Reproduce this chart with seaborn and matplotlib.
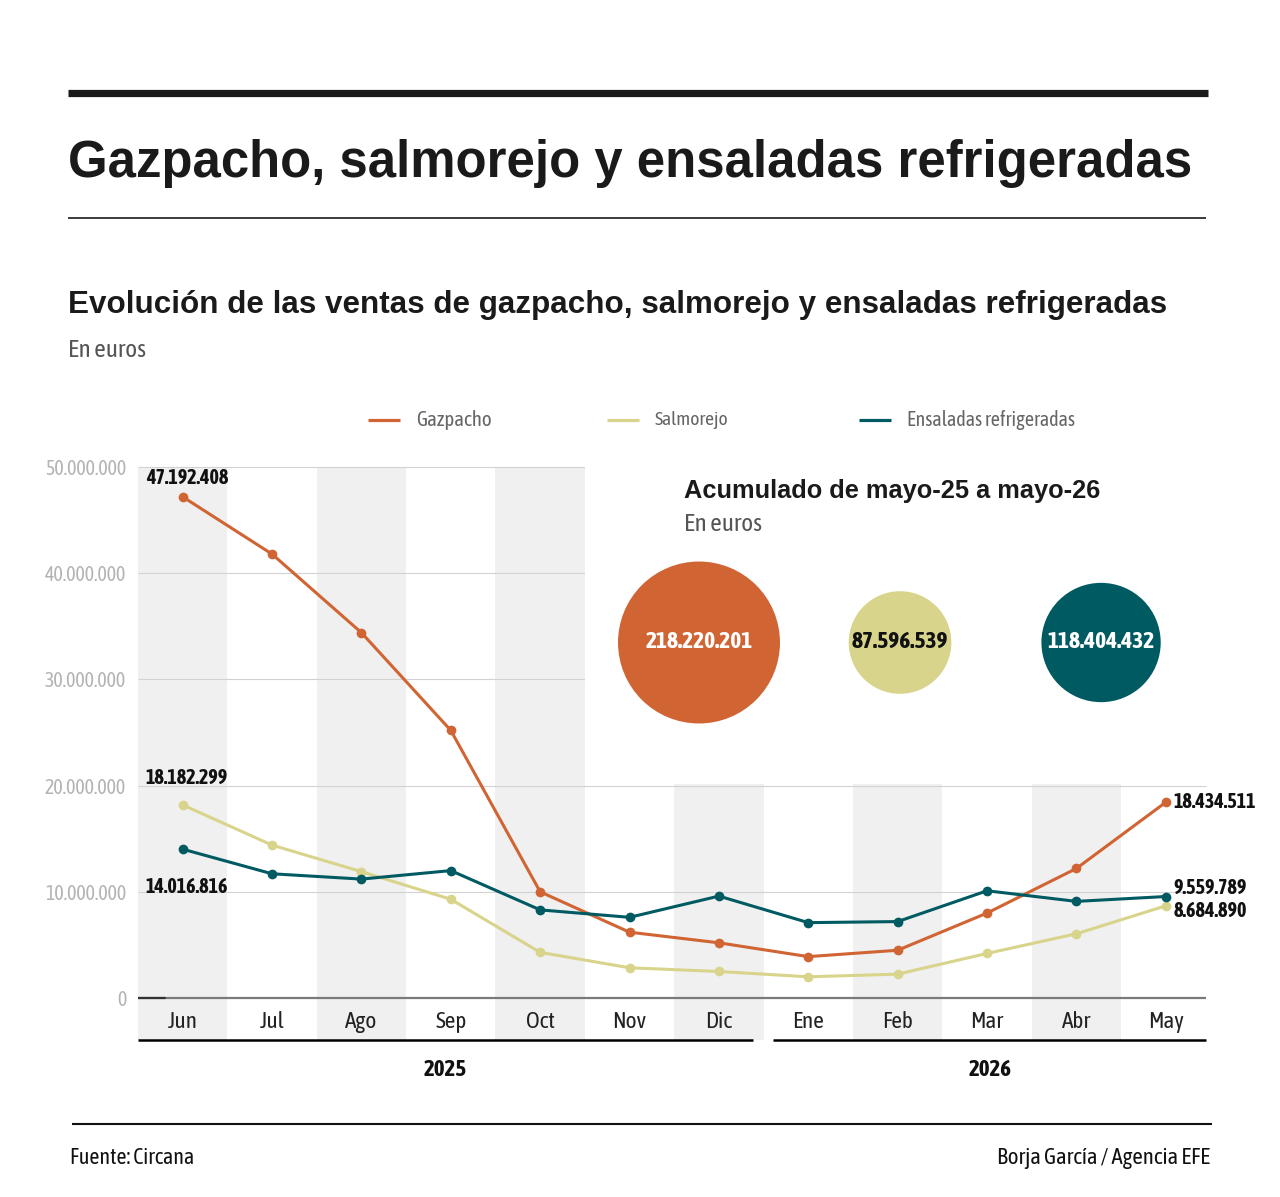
import numpy as np
import pandas as pd
import matplotlib
matplotlib.use('Agg')
import matplotlib.pyplot as plt
import seaborn as sns
from matplotlib import font_manager
from matplotlib.lines import Line2D
from matplotlib.patches import Rectangle

# Datos
meses = ['Jun', 'Jul', 'Ago', 'Sep', 'Oct', 'Nov', 'Dic', 'Ene', 'Feb', 'Mar', 'Abr', 'May']
gazpacho = [47192408, 41800000, 34400000, 25200000, 10000000, 6200000,
            5200000, 3900000, 4500000, 8000000, 12200000, 18434511]
salmorejo = [18182299, 14400000, 11900000, 9300000, 4300000, 2850000,
             2500000, 2000000, 2250000, 4200000, 6050000, 8684890]
ensaladas = [14016816, 11700000, 11200000, 12000000, 8300000, 7600000,
             9600000, 7100000, 7200000, 10100000, 9100000, 9559789]
series = ['Gazpacho', 'Salmorejo', 'Ensaladas refrigeradas']
colores = ['#d06433', '#d9d48b', '#005a62']
acumulado = [218220201, 87596539, 118404432]
anios = ['2025', '2026']
yticks = [0, 10000000, 20000000, 30000000, 40000000, 50000000]

sns.set_theme(style='white')


def peso(w):
    if isinstance(w, str):
        return font_manager.weight_dict.get(w, 400)
    return w


# buscar una familia estrecha con negrita para etiquetas y textos pequeños
pesos = {}
for f in font_manager.fontManager.ttflist:
    if 'Narrow' in f.name or 'Condensed' in f.name:
        pesos.setdefault(f.name, set()).add(peso(f.weight))
con_negrita = sorted(n for n, p in pesos.items() if max(p) >= 700 and min(p) <= 500)
if con_negrita:
    fuente = fuente_b = con_negrita[0]
elif pesos:
    fuente = sorted(pesos)[0]
    fuente_b = 'Liberation Sans'
else:
    fuente = fuente_b = 'Liberation Sans'
plt.rcParams['font.family'] = [fuente, 'DejaVu Sans']
B = dict(fontweight='bold', family=[fuente_b, 'DejaVu Sans'])
T = dict(fontweight='bold', family=['Liberation Sans', 'DejaVu Sans'])


def fmt(v):
    return f'{int(v):,}'.replace(',', '.')


W, H = 1280, 1197
fig = plt.figure(figsize=(W / 100, H / 100), dpi=100)
fig.patch.set_facecolor('white')


def fx(x):
    return x / W


def fy(y):
    return 1 - y / H


def ajustar(t, ancho):
    r = fig.canvas.get_renderer()
    w = t.get_window_extent(r).width
    t.set_fontsize(t.get_fontsize() * ancho / w)


def tamano(texto, ancho, **kw):
    t = fig.text(0, 0, texto, fontsize=20, **kw)
    ajustar(t, ancho)
    s = t.get_fontsize()
    t.remove()
    return s


def barra(x0, x1, y, lw, color):
    fig.add_artist(Line2D([fx(x0), fx(x1)], [fy(y), fy(y)], lw=lw, color=color,
                          solid_capstyle='butt'))


fs_tick = tamano('50.000.000', 82)
fs_dato = tamano('47.192.408', 82, **B)
fs_burbuja = tamano('218.220.201', 107, **B)
fs_mes = tamano('Jun', 30)
fs_anio = tamano('2025', 43, **B)

# Cabecera
barra(68, 1208, 93, 5.2, '#1a1a1a')
t = fig.text(fx(68), fy(177), 'Gazpacho, salmorejo y ensaladas refrigeradas',
             fontsize=40, color='#1a1a1a', va='baseline', **T)
ajustar(t, 1122)
barra(68, 1206, 218, 1.2, '#1a1a1a')
t = fig.text(fx(68), fy(313), 'Evolución de las ventas de gazpacho, salmorejo y ensaladas refrigeradas',
             fontsize=23, color='#1a1a1a', va='baseline', **T)
ajustar(t, 1097)
t = fig.text(fx(68), fy(357), 'En euros', fontsize=14, color='#555555', va='baseline')
ajustar(t, 78)

# Leyenda
leyenda_x = [(368, 416, 75), (607, 655, 73), (859, 907, 168)]
for (lx, tx, tw), nombre, col in zip(leyenda_x, series, colores):
    barra(lx, lx + 32, 420, 2.3, col)
    t = fig.text(fx(tx), fy(420), nombre, fontsize=13, color='#666666', va='center')
    ajustar(t, tw)

# Gráfico de líneas
ax = fig.add_axes([fx(138), fy(1040), (1206 - 138) / W, (1040 - 467) / H])
ax.set_xlim(-0.5, 11.45)
ax.set_ylim(-3950000, 50000000)
for s in ax.spines.values():
    s.set_visible(False)

for i in range(0, len(meses), 2):
    ax.axvspan(i - 0.5, i + 0.5, color='#f0f0f0', lw=0, zorder=0)
ax.hlines(yticks[1:], -0.5, 11.45, color='#d2d2d2', lw=0.8, zorder=1, clip_on=False)
ax.add_patch(Rectangle((4.5, 20150000), 7.2, 30400000, color='white', lw=0,
                       zorder=1.5, clip_on=False))
ax.axhline(0, color='#7a7a7a', lw=1.6, zorder=2)
ax.plot([-0.5, -0.2], [0, 0], color='#333333', lw=1.6, zorder=2)

df = pd.DataFrame({
    'pos': list(range(len(meses))) * 3,
    'ventas': gazpacho + salmorejo + ensaladas,
    'serie': [s for s in series for _ in meses],
})
sns.lineplot(data=df, x='pos', y='ventas', hue='serie', hue_order=series,
             palette=colores, marker='o', markersize=7, markeredgewidth=0,
             linewidth=2.2, legend=False, ax=ax, zorder=3)

ax.set_xticks([])
ax.set_xlabel('')
ax.set_ylabel('')
ax.set_yticks(yticks)
ax.set_yticklabels([fmt(v) for v in yticks], color='#b3b3b3', fontsize=fs_tick)
ax.tick_params(axis='y', length=0, pad=8.6)

for i, m in enumerate(meses):
    ax.text(i, -2260000, m, ha='center', va='center', fontsize=fs_mes, color='#222222')

# Etiquetas de inicio y fin
inicio = [(gazpacho[0], (-26.6, 13.7)), (salmorejo[0], (-26.6, 19.4)), (ensaladas[0], (-26.6, -27.4))]
for v, off in inicio:
    ax.annotate(fmt(v), (0, v), xytext=off, textcoords='offset points', ha='left',
                va='center', fontsize=fs_dato, color='#111111', **B)
fin = [(gazpacho[-1], (5.5, 0)), (salmorejo[-1], (5.5, -3.6)), (ensaladas[-1], (5.5, 5.8))]
for v, off in fin:
    ax.annotate(fmt(v), (11, v), xytext=off, textcoords='offset points', ha='left',
                va='center', fontsize=fs_dato, color='#111111',
                annotation_clip=False, **B)

# Años
ax.plot([-0.5, 6.38], [-3950000, -3950000], color='black', lw=1.8, clip_on=False,
        solid_capstyle='butt')
ax.plot([6.6, 11.45], [-3950000, -3950000], color='black', lw=1.8, clip_on=False,
        solid_capstyle='butt')
for x, a in zip([2.935, 9.03], anios):
    ax.text(x, -6780000, a, ha='center', va='center', fontsize=fs_anio,
            color='#111111', clip_on=False, **B)

# Recuadro de acumulados
t = fig.text(fx(684), fy(498), 'Acumulado de mayo-25 a mayo-26', fontsize=18,
             color='#1a1a1a', va='baseline', **T)
ajustar(t, 417)
t = fig.text(fx(684), fy(531), 'En euros', fontsize=14, color='#555555', va='baseline')
ajustar(t, 78)

axb = fig.add_axes([fx(584), fy(760), (1206 - 584) / W, (760 - 525) / H])
axb.set_xlim(-0.572, 2.522)
axb.set_ylim(-1, 1)
axb.axis('off')
sns.scatterplot(x=[0, 1, 2], y=[0, 0, 0], hue=series, palette=colores,
                size=acumulado, sizes=(0, 13600), size_norm=(0, max(acumulado)),
                linewidth=0, legend=False, ax=axb, clip_on=False)
for i, (v, c) in enumerate(zip(acumulado, ['white', '#111111', 'white'])):
    axb.text(i, 0, fmt(v), ha='center', va='center', fontsize=fs_burbuja,
             color=c, **B)

# Pie
barra(72, 1212, 1124, 1.5, '#111111')
t = fig.text(fx(70), fy(1158), 'Fuente: Circana', fontsize=14, color='#111111', va='center')
ajustar(t, 124)
t = fig.text(fx(1210), fy(1158), 'Borja García / Agencia EFE', fontsize=14,
             color='#111111', va='center', ha='right')
ajustar(t, 213)

fig.savefig('out.png', dpi=100, facecolor='white')
